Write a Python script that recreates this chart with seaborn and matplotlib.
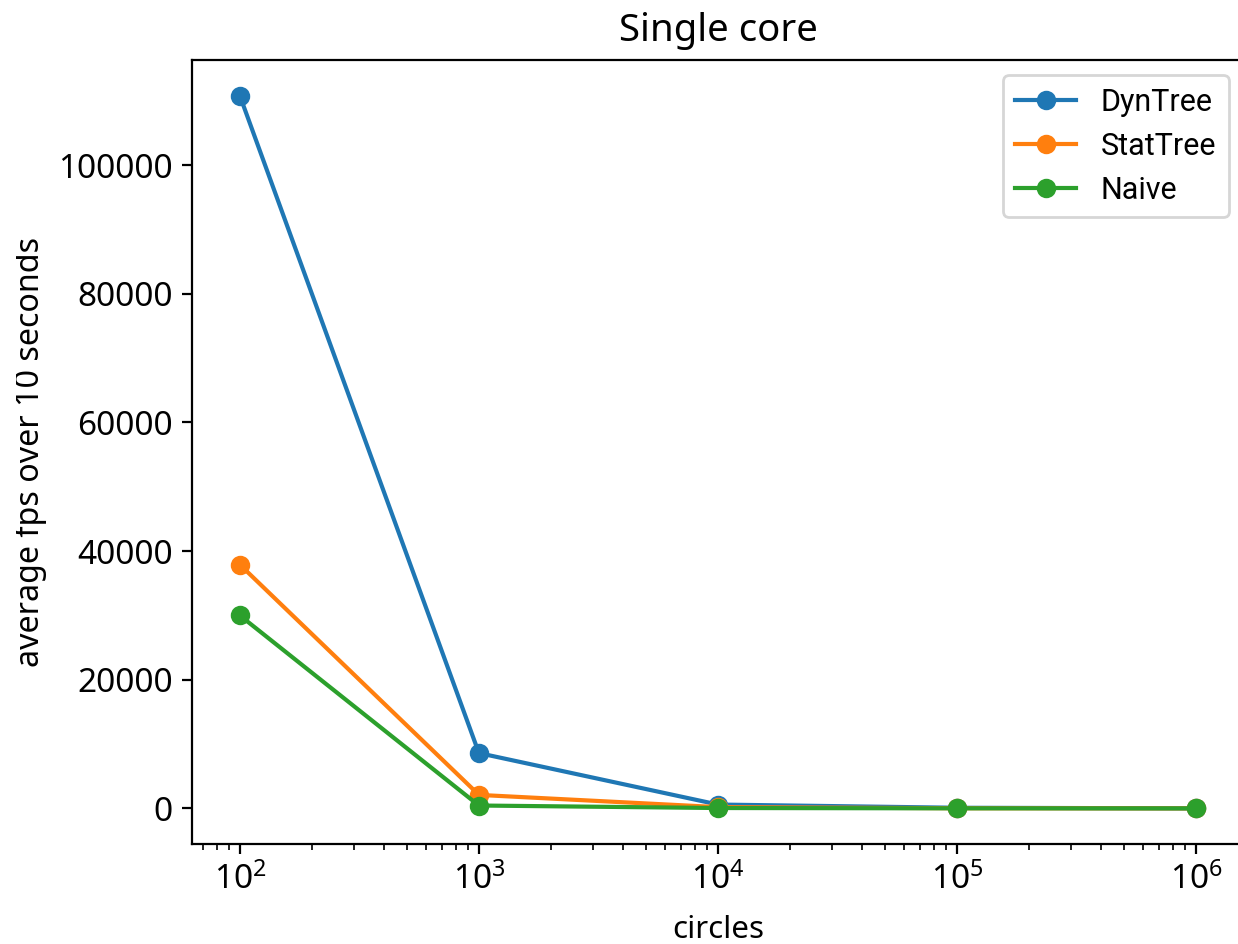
import matplotlib
matplotlib.use("Agg")
import matplotlib.pyplot as plt
import seaborn as sns
import pandas as pd
from matplotlib.transforms import Bbox, TransformedBbox

circles = [100, 1000, 10000, 100000, 1000000]
dyntree = [110800, 8600, 600, 100, 10]
stattree = [37900, 2100, 200, 30, 5]
naive = [30000, 450, 60, 10, 2]
series_names = ["DynTree", "StatTree", "Naive"]
colors = ["#1f77b4", "#ff7f0e", "#2ca02c"]

plt.rcParams['font.family'] = ['Noto Sans', 'DejaVu Sans']
plt.rcParams['xtick.labelsize'] = 12
plt.rcParams['ytick.labelsize'] = 12

fig = plt.figure(figsize=(6.19, 4.72), dpi=200)
ax = fig.add_axes([0.1551, 0.1059, 0.8497, 0.8305])

for name, vals, c in zip(series_names, [dyntree, stattree, naive], colors):
    df = pd.DataFrame({"circles": circles, "fps": vals})
    sns.lineplot(data=df, x="circles", y="fps", ax=ax, color=c, marker="o",
                 markersize=6, linewidth=1.5, markeredgewidth=1.0,
                 markeredgecolor=c, label=name, legend=False)

ax.set_xscale("log")
ax.set_title("Single core", fontsize=13.8, pad=7)
ax.set_xlabel("circles", fontsize=11.3, labelpad=6.5)
ax.set_ylabel("average fps over 10 seconds", fontsize=11.6, labelpad=4.0)
ylab = ax.yaxis.label
ylab.set_clip_box(TransformedBbox(Bbox([[16 / 1238, 0], [1, 1]]), fig.transFigure))
ylab.set_clip_on(True)

leg = ax.legend(loc="upper right", prop={"family": ["Roboto", "DejaVu Sans"], "size": 11})

fig.savefig("out.png", dpi=200)
